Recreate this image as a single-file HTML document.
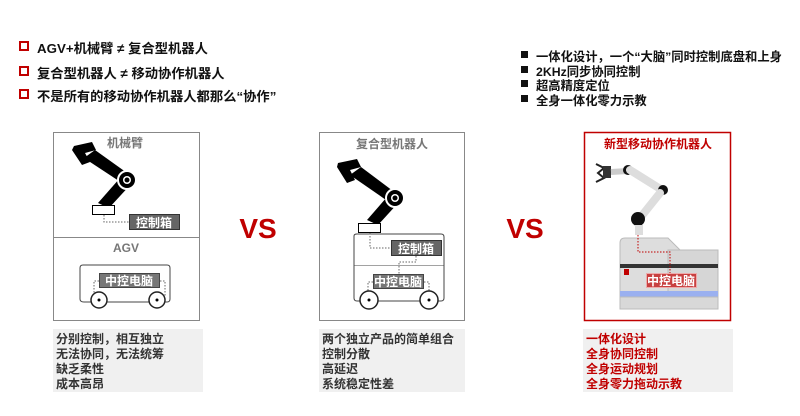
<!DOCTYPE html>
<html><head><meta charset="utf-8"><style>
html,body{margin:0;padding:0;background:#fff;}
body{width:800px;height:416px;position:relative;overflow:hidden;font-family:"Liberation Sans","Noto Sans CJK SC",sans-serif;}
.a{position:absolute;white-space:nowrap;}
.lb{font-size:13.3px;font-weight:bold;color:#111;}
.lsq{position:absolute;width:6px;height:6px;border:2px solid #c00000;}
.rb{font-size:12.3px;font-weight:bold;color:#111;}
.rsq{position:absolute;width:7px;height:7px;background:#111;}
.tb{position:absolute;background:#f0f0f0;font-size:12px;font-weight:bold;line-height:15px;padding:3px 0 0 3px;box-sizing:border-box;}
</style></head><body>
<div class="lsq" style="left:19px;top:41px"></div><div class="a lb" style="left:37px;top:38px">AGV+机械臂 ≠ 复合型机器人</div>
<div class="lsq" style="left:19px;top:66px"></div><div class="a lb" style="left:37px;top:63px">复合型机器人 ≠ 移动协作机器人</div>
<div class="lsq" style="left:19px;top:89px"></div><div class="a lb" style="left:37px;top:86px">不是所有的移动协作机器人都那么“协作”</div>

<div class="rsq" style="left:521px;top:51px"></div><div class="a rb" style="left:536px;top:47px">一体化设计，一个“大脑”同时控制底盘和上身</div>
<div class="rsq" style="left:521px;top:66px"></div><div class="a rb" style="left:536px;top:62px">2KHz同步协同控制</div>
<div class="rsq" style="left:521px;top:80px"></div><div class="a rb" style="left:536px;top:76px">超高精度定位</div>
<div class="rsq" style="left:521px;top:95px"></div><div class="a rb" style="left:536px;top:91px">全身一体化零力示教</div>

<svg class="a" style="left:0;top:0" width="800" height="416" xmlns="http://www.w3.org/2000/svg" font-family="Liberation Sans,Noto Sans CJK SC,sans-serif" font-weight="bold">
<rect x="53.5" y="132.5" width="146" height="188" fill="none" stroke="#888"/>
<line x1="53" y1="237.5" x2="200" y2="237.5" stroke="#888"/>
<text x="125" y="147" font-size="12" fill="#777" text-anchor="middle">机械臂</text>
<path d="M74 146 L92 142 L96 150 L85 153 L90 162 L82 165 L72 150 Z" fill="#000"/>
<path d="M84 158 L95 150 L130 175 L122 183 Z" fill="#000"/>
<path d="M120 178 L132 183 L109 208 L98 203 Z" fill="#000"/>
<circle cx="127" cy="180" r="9" fill="#000" stroke="#fff" stroke-width="2"/><circle cx="127" cy="180" r="4" fill="#fff"/><circle cx="127" cy="180" r="2.5" fill="#000"/>
<rect x="92.5" y="205.5" width="22" height="9" fill="#fff" stroke="#000"/>
<path d="M104 215 V222 H129" fill="none" stroke="#666" stroke-dasharray="1.5,1.5"/>
<rect x="129.5" y="214.5" width="50" height="15" fill="#666" stroke="#333"/>
<text x="154" y="227" font-size="12" fill="#fff" text-anchor="middle">控制箱</text>
<text x="126" y="252" font-size="12" fill="#777" text-anchor="middle">AGV</text>
<path d="M80 268 Q80 265 83 265 H167 Q170 265 170 268 V299 Q170 302 167 302 H84 Q80 302 80 299 Z" fill="#fff" stroke="#444"/>
<rect x="99.5" y="273.5" width="60" height="14" fill="#777" stroke="#444"/>
<text x="129" y="285" font-size="12" fill="#fff" text-anchor="middle">中控电脑</text>
<path d="M99 281 H94 V296 M160 281 H165 V296" fill="none" stroke="#666" stroke-dasharray="1.5,1.5"/>
<circle cx="99" cy="300" r="8" fill="#fff" stroke="#222" stroke-width="1.5"/><circle cx="99" cy="300" r="1.5" fill="#000"/>
<circle cx="157" cy="300" r="8" fill="#fff" stroke="#222" stroke-width="1.5"/><circle cx="157" cy="300" r="1.5" fill="#000"/>

<text x="258" y="238" font-size="28" fill="#c00000" text-anchor="middle" font-family="Liberation Sans">VS</text>
<text x="525" y="238" font-size="28" fill="#c00000" text-anchor="middle" font-family="Liberation Sans">VS</text>

<rect x="319.5" y="132.5" width="145" height="188" fill="none" stroke="#888"/>
<text x="392" y="148" font-size="12" fill="#777" text-anchor="middle">复合型机器人</text>
<path d="M338 163 L357 159 L361 167 L350 170 L355 180 L347 183 L337 167 Z" fill="#000"/>
<path d="M350 175 L361 167 L397 194 L389 202 Z" fill="#000"/>
<path d="M387 197 L399 202 L378 225 L367 220 Z" fill="#000"/>
<circle cx="395" cy="198" r="9" fill="#000" stroke="#fff" stroke-width="2"/><circle cx="395" cy="198" r="4" fill="#fff"/><circle cx="395" cy="198" r="2.5" fill="#000"/>
<rect x="358.5" y="223.5" width="22" height="9" fill="#fff" stroke="#000"/>
<path d="M354 236 Q354 234 357 234 H441 Q444 234 444 237 V266 H354 Z" fill="#fff" stroke="#444"/>
<path d="M354 266 V298 Q354 301 357 301 H441 Q444 301 444 298 V266" fill="#fff" stroke="#444"/>
<path d="M370 233 V248 H391" fill="none" stroke="#666" stroke-dasharray="1.5,1.5"/>
<rect x="391.5" y="240.5" width="50" height="15" fill="#666" stroke="#333"/>
<text x="416" y="253" font-size="12" fill="#fff" text-anchor="middle">控制箱</text>
<path d="M416 256 V262 H399 V275" fill="none" stroke="#666" stroke-dasharray="1.5,1.5"/>
<rect x="373.5" y="274.5" width="50" height="14" fill="#777" stroke="#444"/>
<text x="398" y="286" font-size="12" fill="#fff" text-anchor="middle">中控电脑</text>
<path d="M373 282 H368 V296 M424 282 H429 V296" fill="none" stroke="#666" stroke-dasharray="1.5,1.5"/>
<circle cx="369" cy="300" r="9" fill="#fff" stroke="#222" stroke-width="1.5"/><circle cx="369" cy="300" r="1.5" fill="#000"/>
<circle cx="429" cy="300" r="9" fill="#fff" stroke="#222" stroke-width="1.5"/><circle cx="429" cy="300" r="1.5" fill="#000"/>

<rect x="584.5" y="132.5" width="146" height="188" fill="none" stroke="#c00000" stroke-width="1.5"/>
<text x="658" y="148" font-size="12" fill="#c00000" text-anchor="middle">新型移动协作机器人</text>
<path d="M596 164 L604 168 L598 173 L604 178 L596 182" fill="none" stroke="#222" stroke-width="2"/>
<rect x="603" y="166" width="8" height="12" fill="#333"/>
<path d="M611 172 L628 171" stroke="#ccc" stroke-width="6"/>
<circle cx="628" cy="170" r="5" fill="#111"/>
<path d="M630 170 L662 190" stroke="#ddd" stroke-width="8" stroke-linecap="round"/>
<circle cx="663" cy="190" r="5" fill="#111"/>
<path d="M660 193 L640 218" stroke="#ddd" stroke-width="8" stroke-linecap="round"/>
<circle cx="638" cy="219" r="7" fill="#111"/>
<rect x="635" y="225" width="8" height="10" fill="#ddd"/>
<path d="M620 243 Q620 238 625 238 H668 L680 250 V300 H620 Z" fill="#ddd" stroke="#bbb"/>
<rect x="668" y="250" width="50" height="50" fill="#d6d6d6" stroke="#bbb"/>
<rect x="620" y="264" width="98" height="4" fill="#333"/>
<rect x="620" y="291" width="98" height="6" fill="#9ab0f0"/>
<rect x="620" y="297" width="98" height="12" fill="#d8d8d8" stroke="#bbb"/>
<rect x="624" y="269" width="5" height="6" fill="#c00000"/>
<path d="M638 235 V252 H670 V275" fill="none" stroke="#c00000" stroke-dasharray="1.5,1.5"/>
<rect x="646.5" y="273.5" width="50" height="14" fill="#c84040" stroke="#eaa"/>
<text x="671" y="285" font-size="12" fill="#fff" text-anchor="middle">中控电脑</text>
</svg>

<div class="tb" style="left:53px;top:329px;width:150px;height:63px;color:#333">分别控制，相互独立<br>无法协同，无法统筹<br>缺乏柔性<br>成本高昂</div>
<div class="tb" style="left:319px;top:329px;width:146px;height:63px;color:#333">两个独立产品的简单组合<br>控制分散<br>高延迟<br>系统稳定性差</div>
<div class="tb" style="left:583px;top:329px;width:150px;height:63px;color:#c00000">一体化设计<br>全身协同控制<br>全身运动规划<br>全身零力拖动示教</div>
</body></html>
